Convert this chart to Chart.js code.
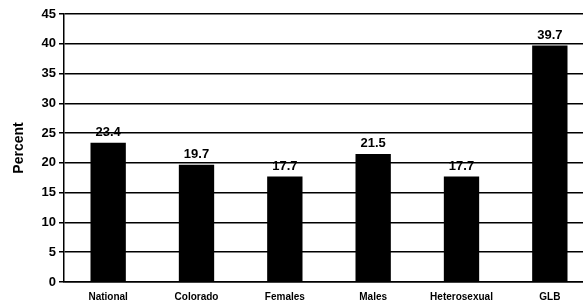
<!DOCTYPE html>
<html>
<head>
<meta charset="utf-8">
<script src="https://cdn.jsdelivr.net/npm/chart.js@4"></script>
<style>
  body { margin: 0; background: #fff; overflow: hidden; }
  #wrap { width: 594px; height: 302px; }
</style>
</head>
<body>
<div id="wrap"><canvas id="chart" width="594" height="302"></canvas></div>
<script>
const categories = ['National', 'Colorado', 'Females', 'Males', 'Heterosexual', 'GLB'];
const percents = [23.4, 19.7, 17.7, 21.5, 17.7, 39.7];
const yTicks = [0, 5, 10, 15, 20, 25, 30, 35, 40, 45];

// value labels drawn above each bar
const barLabels = {
    id: 'barLabels',
    afterDatasetsDraw(chart) {
        const ctx = chart.ctx;
        const meta = chart.getDatasetMeta(0);
        ctx.save();
        ctx.font = 'bold 13px "Liberation Sans", Arial, sans-serif';
        ctx.fillStyle = '#000';
        ctx.textAlign = 'center';
        ctx.textBaseline = 'bottom';
        meta.data.forEach((bar, i) => {
            ctx.fillText(percents[i].toFixed(1), bar.x, bar.y - 4);
        });
        ctx.restore();
    }
};

const ctx = document.getElementById('chart').getContext('2d');
new Chart(ctx, {
    type: 'bar',
    data: {
        labels: categories,
        datasets: [{
            data: percents,
            backgroundColor: '#000',
            barPercentage: 0.4,
            categoryPercentage: 1.0
        }]
    },
    options: {
        responsive: false,
        animation: false,
        layout: { padding: { top: 14, right: 0, left: 0, bottom: 0 } },
        plugins: {
            legend: { display: false },
            tooltip: { enabled: false }
        },
        scales: {
            x: {
                grid: { display: false },
                border: { color: '#000', width: 1.5 },
                ticks: {
                    color: '#000',
                    font: { family: '"Liberation Sans", Arial, sans-serif', size: 10, weight: 'bold' },
                    padding: 1,
                    maxRotation: 0
                },
                afterFit: s => { s.height = 20; }
            },
            y: {
                min: 0,
                max: 45,
                afterBuildTicks: s => { s.ticks = yTicks.map(v => ({ value: v })); },
                grid: { color: '#000', lineWidth: 1.5, tickLength: 5 },
                border: { color: '#000', width: 1.5 },
                ticks: {
                    color: '#000',
                    font: { family: '"Liberation Sans", Arial, sans-serif', size: 13, weight: 'bold' },
                    padding: 3
                },
                title: {
                    display: true,
                    text: 'Percent',
                    color: '#000',
                    font: { family: '"Liberation Sans", Arial, sans-serif', size: 14, weight: 'bold' },
                    padding: { top: 11, bottom: 4 }
                },
                afterFit: s => { s.width = 64; }
            }
        }
    },
    plugins: [barLabels]
});
</script>
</body>
</html>
